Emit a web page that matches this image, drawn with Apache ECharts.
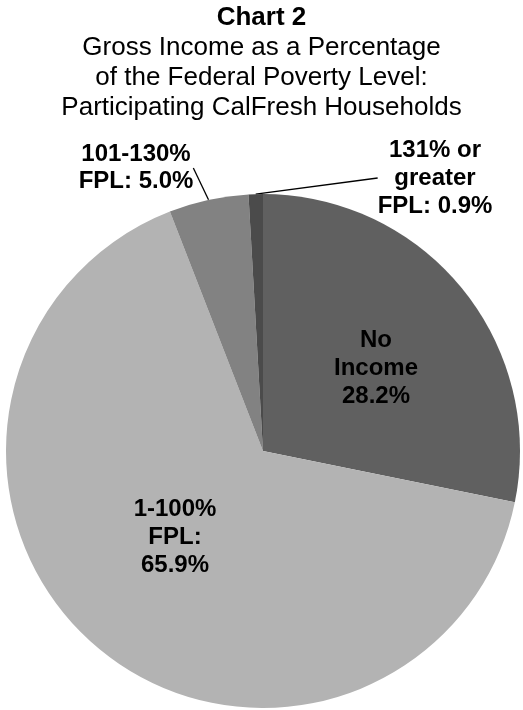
<!DOCTYPE html>
<html>
<head>
<meta charset="utf-8">
<script src="https://cdn.jsdelivr.net/npm/echarts@6/dist/echarts.min.js"></script>
<style>
	html, body { margin: 0; padding: 0; background: #fff; }
	#chart { width: 523px; height: 710px; }
</style>
</head>
<body>
<div id="chart"></div>
<script>
// slice names and shares (%)
var categories = ['No Income', '1-100% FPL', '101-130% FPL', '131% or greater FPL'];
var values = [28.2, 65.9, 5.0, 0.9];
var labelTexts = ['No\nIncome\n28.2%', '1-100%\nFPL:\n65.9%', '101-130%\nFPL: 5.0%', '131% or\ngreater\nFPL: 0.9%'];
var colors = ['#606060', '#b3b3b3', '#828282', '#4b4b4b'];

var myChart = echarts.init(document.getElementById('chart'));

/*label centres, as in the original layout*/
var labelSpots = [
	{ x: 376, y: 368 },
	{ x: 175, y: 537 },
	{ x: 136, y: 168 },
	{ x: 435, y: 178 }
];

var data = values.map(function (v, i) {
	var outside = i >= 2;
	return {
		name: categories[i],
		value: v,
		itemStyle: { color: colors[i] },
		label: {
			position: outside ? 'outside' : 'inside',
			formatter: labelTexts[i],
			lineHeight: i === 2 ? 26.5 : 28
		},
		labelLine: { show: outside }
	};
});

var option = {
	backgroundColor: '#fff',
	title: [{
		text: 'Chart 2',
		left: 'center',
		top: 0,
		textStyle: { fontFamily: 'Liberation Sans, Arial', fontWeight: 'bold', fontSize: 26, lineHeight: 26, color: '#000' }
	}, {
		text: 'Gross Income as a Percentage\nof the Federal Poverty Level:\nParticipating CalFresh Households',
		left: 'center',
		top: 28,
		textStyle: { fontFamily: 'Liberation Sans, Arial', fontWeight: 'normal', fontSize: 26, lineHeight: 30, color: '#000' }
	}],
	series: [{
		type: 'pie',
		center: [263, 451],
		radius: 257,
		startAngle: 90,
		clockwise: true,
		animation: false,
		avoidLabelOverlap: false,
		label: {
			color: '#000',
			fontFamily: 'Liberation Sans, Arial',
			fontWeight: 'bold',
			fontSize: 24,
			lineHeight: 28,
			align: 'center'
		},
		labelLine: {
			lineStyle: { color: '#000', width: 1.3 },
			length: 20,
			length2: 0
		},
		labelLayout: function (params) {
			var spot = labelSpots[params.dataIndex];
			return { x: spot.x, y: spot.y, align: 'center', verticalAlign: 'middle' };
		},
		data: data
	}]
};

myChart.setOption(option);
</script>
</body>
</html>
